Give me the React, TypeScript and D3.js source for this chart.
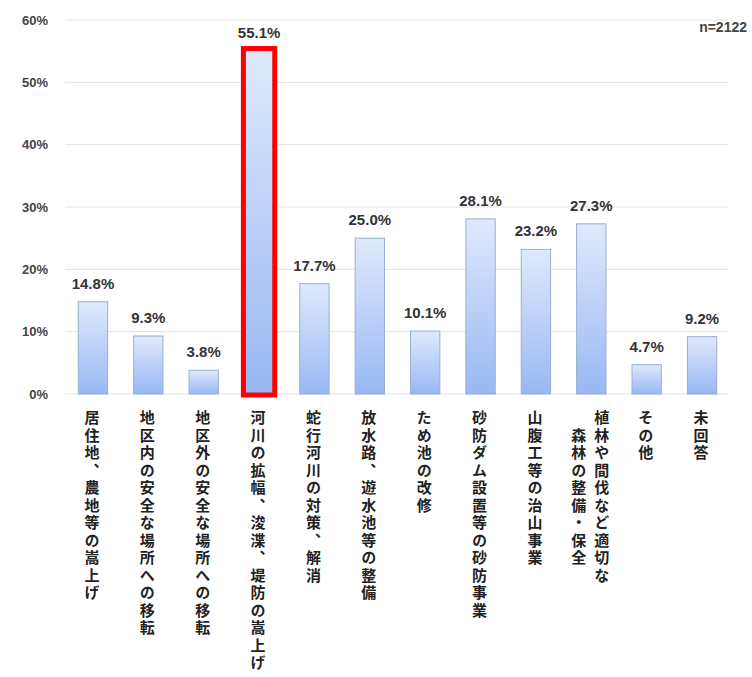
import React from "react";
import * as d3 from "d3";

const categories: string[][] = [
  ["居住地、農地等の嵩上げ"],
  ["地区内の安全な場所への移転"],
  ["地区外の安全な場所への移転"],
  ["河川の拡幅、浚渫、堤防の嵩上げ"],
  ["蛇行河川の対策、解消"],
  ["放水路、遊水池等の整備"],
  ["ため池の改修"],
  ["砂防ダム設置等の砂防事業"],
  ["山腹工等の治山事業"],
  ["植林や間伐など適切な", "森林の整備・保全"],
  ["その他"],
  ["未回答"],
];
const values: number[] = [14.8, 9.3, 3.8, 55.1, 17.7, 25.0, 10.1, 28.1, 23.2, 27.3, 4.7, 9.2];
const yTicks: number[] = [0, 10, 20, 30, 40, 50, 60];
const highlightIndex = 3;
const sampleNote = "n=2122";

const W = 752;
const H = 677;
const left = 65;
const right = 730;
const top = 20;
const bottom = 394;

export default function App() {
  const x = d3
    .scaleBand<number>()
    .domain(values.map((_, i) => i))
    .range([left, right])
    .paddingInner(0.47)
    .paddingOuter(0.24);
  const y = d3.scaleLinear().domain([0, 60]).range([bottom, top]);
  const bw = x.bandwidth();
  const font = "'Liberation Sans', Arial, sans-serif";
  const jp = "'Noto Sans CJK JP', sans-serif";

  return (
    <div style={{ position: "absolute", left: 0, top: 0 }}>
      <svg width={W} height={H} style={{ display: "block", background: "#fff" }}>
        <defs>
          <linearGradient id="barGrad" x1="0" y1="0" x2="0" y2="1">
            <stop offset="0%" stopColor="#dfe9fc" />
            <stop offset="100%" stopColor="#98b8f4" />
          </linearGradient>
        </defs>
        {yTicks.map((t) => (
          <g key={t}>
            <line x1={left} x2={728} y1={y(t)} y2={y(t)} stroke="#e2e2e2" strokeWidth={1} />
            <text
              x={48}
              y={y(t)}
              dy="0.35em"
              textAnchor="end"
              fontFamily={font}
              fontWeight="bold"
              fontSize={13}
              fill="#444"
            >
              {t}%
            </text>
          </g>
        ))}
        {values.map((v, i) => {
          const x0 = x(i)!;
          const cx = x0 + bw / 2;
          const yt = y(v);
          const hl = i === highlightIndex;
          return (
            <g key={i}>
              <rect
                x={x0}
                y={yt}
                width={bw}
                height={bottom - yt}
                fill="url(#barGrad)"
                stroke="#9aaecd"
                strokeWidth={1}
              />
              {hl && (
                <rect
                  x={x0 - 1}
                  y={yt - 2}
                  width={bw + 2}
                  height={bottom - yt + 3}
                  fill="none"
                  stroke="#ff0000"
                  strokeWidth={5}
                />
              )}
              <text
                x={cx}
                y={yt - 13}
                textAnchor="middle"
                fontFamily={font}
                fontWeight="bold"
                fontSize={15}
                fill="#333"
              >
                {v.toFixed(1)}%
              </text>
              {categories[i].map((line, li) => {
                const n = categories[i].length;
                const offset = (n - 1) / 2 - li;
                const maxLen = d3.max(categories[i], (s) => s.length)!;
                const startY = 410 + ((maxLen - line.length) * 17.5) / 2;
                return (
                  <text
                    key={li}
                    x={cx - 1 + offset * 23}
                    y={startY}
                    fontFamily={jp}
                    fontWeight="bold"
                    fontSize={15}
                    letterSpacing={2.5}
                    fill="#222"
                    style={{ writingMode: "vertical-rl", textOrientation: "upright" } as any}
                  >
                    {line}
                  </text>
                );
              })}
            </g>
          );
        })}
        <text
          x={747}
          y={27}
          dy="0.35em"
          textAnchor="end"
          fontFamily={font}
          fontWeight="bold"
          fontSize={14}
          fill="#444"
        >
          {sampleNote}
        </text>
      </svg>
    </div>
  );
}
